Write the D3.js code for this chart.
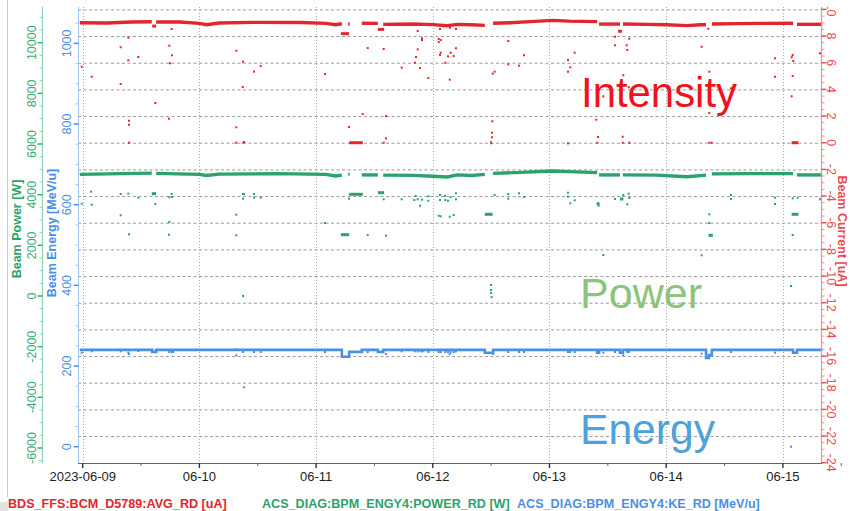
<!DOCTYPE html>
<html><head><meta charset="utf-8">
<script src="https://cdn.jsdelivr.net/npm/d3@7/dist/d3.min.js"></script>
<style>
body{margin:0;background:#fff;}
svg{display:block;font-family:"Liberation Sans",Arial,Helvetica,sans-serif;}
</style>
</head><body>
<svg id="c" width="850" height="511"></svg>
<script>
// ---------- DATA (hours since 2023-06-09 00:00 UTC, value) ----------
const dayLabels = ["2023-06-09","06-10","06-11","06-12","06-13","06-14","06-15"];
const currentTicks = [-24,-22,-20,-18,-16,-14,-12,-10,-8,-6,-4,-2,0,2,4,6,8,10];
const powerTicks = [-6000,-4000,-2000,0,2000,4000,6000,8000,10000];
const energyTicks = [0,200,400,600,800,1000];

// main dense traces (segments separated by gaps)
const intensityTrace = [
 [[-0.6,9.00],[5,8.98],[10,9.05],[14.2,9.07]],
 [[15.1,9.05],[20,9.05],[24,8.95],[25.5,8.85],[28,8.98],[35,9.03],[45,9.02],[50,8.95],[52,8.85],[53.3,8.92]],
 [[54.6,8.90],[54.9,8.90]],
 [[57.4,8.96],[60.7,8.95]],
 [[61.8,8.88],[68,8.90],[72,8.86],[75,8.78],[77,8.88],[80,8.85],[82.7,8.80]],
 [[84.4,8.96],[88,9.00],[92,9.08],[96.7,9.18],[100,9.12],[103,9.10],[105.8,9.08]],
 [[106.2,8.90],[110.5,8.90]],
 [[111.1,8.90],[116,8.88],[120,8.85],[124.3,8.78],[127,8.85],[128.2,8.85]],
 [[129.4,8.90],[135,8.93],[140,8.95],[146.1,8.96]],
 [[146.9,8.88],[152.1,8.88]]
];
const powerTrace = [
 [[-0.6,4800],[8,4830],[14.2,4850]],
 [[15.1,4840],[24,4800],[25.5,4760],[28,4810],[40,4830],[50,4800],[52,4740],[53.3,4770]],
 [[54.6,4810],[54.9,4810]],
 [[57.4,4780],[60.7,4780]],
 [[61.8,4770],[68,4760],[72,4730],[75,4700],[77,4780],[80,4760],[82.7,4800]],
 [[84.4,4840],[90,4880],[96.7,4935],[100,4910],[105.8,4870]],
 [[106.2,4780],[110.5,4780]],
 [[111.1,4780],[118,4770],[124.3,4710],[128.2,4770]],
 [[129.4,4820],[137,4830],[146.1,4830]],
 [[146.9,4780],[152.1,4780]]
];
const energyTrace = [[-0.6,240],[14.3,235],[15.1,240],[53.3,223],[54.8,235],[57.4,240],[60.7,235],[61.8,240],
 [82.7,233],[84.4,240],[105.8,233],[106.2,240],[110.5,233],[111.1,240],[128.2,220],[128.8,227],[129.4,240],
 [146.1,233],[146.9,240],[152.1,240]];

// short dense runs [startHour, endHour, value]
const intensityRuns = [[14.3,15.1,8.75],[53.1,54.8,8.18],[54.8,57.6,0],[60.7,62.0,8.5],[83.8,84.2,0],[110.1,110.9,8.36],[145.8,147.2,0]];
const powerRuns = [[14.2,15.1,4039],[53.1,54.8,2420],[54.8,57.6,4015],[60.7,62.0,4078],[82.7,84.3,3225],[105.7,106.3,3644],[110.5,111.2,3829],[128.7,129.6,2396],[145.8,147.2,3225]];

// scattered readings
const intensityPoints = [
[-0.21,5.70],[1.85,4.95],[7.81,7.16],[7.81,4.40],[9.38,7.88],[9.38,6.18],[9.52,1.65],[9.52,1.35],[9.52,0],[11.43,6.43],[14.93,2.98],[17.81,7.28],[17.95,5.96],[17.75,1.80],[18.30,8.53],[18.37,6.56],
[31.59,6.90],[31.59,1.16],[31.59,0],[32.97,6.08],[32.91,4.18],[33.03,0],[33.2,0.05],[35.23,5.33],[36.61,5.75],[49.83,5.15],
[54.77,1.18],[57.58,2.15],[58.61,7.10],[61.9,7.03],[62.38,2.0],[62.38,0.33],[61.9,0],[65.6,5.63],[68.34,6.0],[68.55,6.43],[68.9,8.38],[68.9,7.0],[69.37,5.60],[69.78,7.83],[69.78,7.70],[71.08,4.85],[73.22,7.78],[73.22,7.55],[73.48,8.53],[73.63,7.70],[73.48,6.58],[73.63,6.75],[74.57,6.0],[75.13,6.48],[75.48,4.73],[75.68,6.75],[75.54,8.63],[76.3,6.5],[76.77,8.53],[76.77,7.08],
[84.32,5.18],[84.73,5.33],[84.24,1.61],[84.18,0.75],[84.18,0.41],[87.53,7.63],[87.53,5.88],[89.73,5.78],[90.76,6.56],[99.81,6.2],[99.81,5.33],[100.28,5.66],[101.18,6.75],[99.81,-0.05],[105.63,1.73],[105.98,0.43],[105.83,0],[107.07,3.48],[109.47,7.95],[109.47,7.31],[111.06,0.45],[111.06,0],[111.18,5.06],[111.88,7.31],[112.0,6.96],[112.41,7.80],[112.29,4.16],[112.41,0],
[127.3,7.2],[128.66,8.55],[128.87,5.33],[128.87,2.23],[128.87,0],[129.36,0],[133.33,4.08],[142.38,6.33],[142.38,4.95],[145.81,6.41],[146.02,6.58],[146.02,5.0],[145.81,3.48],[146.14,6.13],[151.64,6.71]
];
const powerPoints = [
[-0.21,3644],[1.71,4118],[1.85,3604],[7.81,4027],[7.81,3186],[9.38,4039],[9.52,2436],[11.43,3881],[14.93,3632],[17.81,3897],[18.30,4027],[18.37,3908],[17.81,2921],[17.75,2420],
[31.59,3210],[31.59,2396],[32.97,4027],[33.17,4027],[32.97,3841],[35.23,4027],[35.23,3881],[36.61,3881],[32.97,0],[49.83,2882],
[54.77,3841],[58.61,2408],[61.9,3818],[62.38,2381],[65.6,3818],[68.2,3790],[68.48,3948],[68.9,3818],[69.37,3565],[69.78,3802],[71.08,3936],[71.08,3762],[73.22,3170],[73.48,3987],[73.63,3146],[73.48,3790],[74.57,3790],[74.5,3948],[75.13,3762],[75.48,3131],[75.68,3897],[76.3,3198],[76.77,4054],[76.77,3818],
[83.97,434],[83.97,237],[84.0,118],[84.1,-40],
[84.73,3987],[87.53,4027],[87.53,3841],[89.73,4054],[90.76,3908],[99.81,4078],[99.81,3920],[100.28,3660],[101.18,3778],[106.1,3565],[107.07,1619],[109.47,3829],[111.18,3987],[112.0,3620],[112.29,4039],[112.41,3869],
[127.3,1607],[128.87,3225],[128.87,2882],[133.33,3987],[133.33,3829],[142.38,3881],[142.38,3632],[146.02,3857],[147.05,3881],[146.02,2408],[145.67,395],[151.64,3818]
];
const energyPoints = [
[-0.21,233.1],[1.85,236.5],[7.81,236.5],[9.38,233.1],[9.52,229.9],[11.43,237.3],[17.8,234.8],[18.3,234.8],[18.6,234.8],[31.59,241.5],[31.59,226.6],[32.97,234.8],[33.2,147.3],[35.23,234.8],[36.61,234.8],[49.83,234.8],[58.61,234.8],[62.38,229.9],[65.6,236.5],[68.3,236.5],[68.9,236.5],[69.5,236.5],[69.9,236.5],[71.08,234.8],[73.22,234.8],[73.63,234.8],[74.57,234.8],[75.13,234.8],[75.48,229.9],[75.68,234.8],[76.3,234.8],[76.77,236.5],
[84.4,229.9],[87.53,234.8],[89.73,234.8],[90.76,234.8],[99.81,234.8],[100.28,234.8],[101.18,234.8],[107.07,233.1],[109.47,234.8],[111.18,226.6],[112.0,234.8],[112.29,234.8],[127.3,230.7],[133.33,234.8],[142.38,233.1],[145.67,0]
];

const legendLabels = ["BDS_FFS:BCM_D5789:AVG_RD [uA]","ACS_DIAG:BPM_ENGY4:POWER_RD [W]","ACS_DIAG:BPM_ENGY4:KE_RD [MeV/u]"];
const axisTitles = ["Beam Current [uA]","Beam Power [W]","Beam Energy [MeV/u]"];
const bigLabels = ["Intensity","Power","Energy"];

// ---------- STYLE ----------
const C = {
  red:"#e3262e", green:"#2aa36c", blue:"#4a8fe5",
  redAxis:"#ec4a52", redLine:"#f19096",
  greenAxis:"#35ad78", greenLine:"#8fd3b2",
  blueAxis:"#4a8fe5", blueLine:"#a9c9f1",
  grid:"#9a9a9a"
};
const T = {top:7, bottom:463, left:78, right:822};

const t0 = Date.UTC(2023,5,9);
const toDate = h => new Date(t0 + h*3600000);

const x = d3.scaleUtc().domain([toDate(-0.97), toDate(152.05)]).range([T.left, T.right]);
const yI = d3.scaleLinear().domain([-24.02, 10.18]).range([T.bottom, T.top]);
const yP = d3.scaleLinear().domain([-6593, 11409]).range([T.bottom, T.top]);
const yE = d3.scaleLinear().domain([-40.4, 1090.2]).range([T.bottom, T.top]);

const svg = d3.select("#c");
svg.append("defs").append("clipPath").attr("id","axclip")
  .append("rect").attr("x",0).attr("y",T.top).attr("width",850).attr("height",T.bottom-T.top+20);

// left decoration
svg.append("line").attr("x1",7.5).attr("x2",7.5).attr("y1",0).attr("y2",497).attr("stroke","#b9cdea").attr("stroke-width",1);
svg.append("rect").attr("x",0).attr("y",502).attr("width",8).attr("height",9).attr("fill","#e2e2e2");

// grid
const days = dayLabels.map((d,i)=>toDate(24*i));
const grid = svg.append("g");
grid.selectAll("line.h").data(currentTicks.filter(v=>v>-24)).join("line")
  .attr("x1",T.left).attr("x2",T.right).attr("y1",d=>yI(d)+0.5).attr("y2",d=>yI(d)+0.5)
  .attr("stroke",C.grid).attr("stroke-width",1).attr("stroke-dasharray","3,2.5");
grid.selectAll("line.v").data(days).join("line")
  .attr("x1",d=>Math.round(x(d))+0.5).attr("x2",d=>Math.round(x(d))+0.5).attr("y1",T.top).attr("y2",T.bottom)
  .attr("stroke","#a8a8a8").attr("stroke-width",1).attr("stroke-dasharray","1,2");

// ---------- MARKS ----------
function drawSeries(trace, runs, points, yS, color, w){
  const g = svg.append("g");
  const line = d3.line().x(d=>x(toDate(d[0]))).y(d=>yS(d[1]));
  g.selectAll("path").data(trace).join("path").attr("d",line)
    .attr("fill","none").attr("stroke",color).attr("stroke-width",w).attr("stroke-linecap","butt");
  g.selectAll("line.run").data(runs).join("line")
    .attr("x1",d=>x(toDate(d[0]))).attr("x2",d=>x(toDate(d[1])))
    .attr("y1",d=>yS(d[2])).attr("y2",d=>yS(d[2]))
    .attr("stroke",color).attr("stroke-width",3);
  g.selectAll("rect").data(points).join("rect")
    .attr("x",d=>x(toDate(d[0]))-1).attr("y",d=>yS(d[1])-1).attr("width",2).attr("height",2)
    .attr("fill",color);
}
drawSeries(intensityTrace, intensityRuns, intensityPoints, yI, C.red, 3.4);
drawSeries(powerTrace, powerRuns, powerPoints, yP, C.green, 3.4);
// energy: step trace
{
  const g = svg.append("g");
  const line = d3.line().x(d=>x(toDate(d[0]))).y(d=>yE(d[1])).curve(d3.curveStepAfter);
  g.append("path").datum(energyTrace).attr("d",line).attr("fill","none")
    .attr("stroke",C.blue).attr("stroke-width",2.6);
  g.selectAll("rect").data(energyPoints).join("rect")
    .attr("x",d=>x(toDate(d[0]))-1).attr("y",d=>yE(d[1])-1).attr("width",2).attr("height",2)
    .attr("fill",C.blue);
}

// ---------- AXES ----------
function vAxis(scale, xLine, majors, minorStep, dir, lineColor, labelColor, labelX, rot, fs){
  const g = svg.append("g");
  const [d0,d1] = scale.domain();
  const minors = d3.range(Math.ceil(d0/minorStep)*minorStep, d1, minorStep);
  g.append("line").attr("x1",xLine).attr("x2",xLine).attr("y1",T.top).attr("y2",T.bottom)
    .attr("stroke",lineColor).attr("stroke-width",1.2);
  g.selectAll("line.mn").data(minors).join("line")
    .attr("x1",xLine).attr("x2",xLine+dir*3).attr("y1",d=>scale(d)).attr("y2",d=>scale(d))
    .attr("stroke",lineColor).attr("stroke-width",1);
  g.selectAll("line.mj").data(majors).join("line")
    .attr("x1",xLine).attr("x2",xLine+dir*5).attr("y1",d=>scale(d)).attr("y2",d=>scale(d))
    .attr("stroke",labelColor).attr("stroke-width",1.4);
  g.append("g").attr("clip-path","url(#axclip)").selectAll("text").data(majors).join("text")
    .attr("x",labelX).attr("y",d=>scale(d)).attr("dy","0.35em")
    .attr("transform",d=>`rotate(${rot},${labelX},${scale(d)})`)
    .attr("text-anchor","middle").attr("font-size",fs).attr("fill",labelColor)
    .text(d=>d);
}
vAxis(yP, 42.5, powerTicks, 500, -1, C.greenLine, C.greenAxis, 32, -90, 12.5);
vAxis(yE, 78.5, energyTicks, 50, -1, C.blueLine, C.blueAxis, 67, -90, 12.5);
vAxis(yI, 821.5, currentTicks, 0.5, 1, C.redLine, C.redAxis, 831, 90, 12.5);

// axis titles
function title(txt, tx, ty, rot, color){
  svg.append("text").attr("x",tx).attr("y",ty).attr("dy","0.35em")
    .attr("transform",`rotate(${rot},${tx},${ty})`).attr("text-anchor","middle")
    .attr("font-size",12.5).attr("font-weight","bold").attr("fill",color).text(txt);
}
title(axisTitles[0], 842.5, 231, 90, C.redAxis);
title(axisTitles[1], 16.5, 229, -90, C.green);
title(axisTitles[2], 52, 233, -90, C.blue);

// x axis
{
  const g = svg.append("g");
  g.append("line").attr("x1",T.left).attr("x2",T.right).attr("y1",T.bottom+0.5).attr("y2",T.bottom+0.5)
    .attr("stroke","#666").attr("stroke-width",1);
  const noons = dayLabels.map((d,i)=>toDate(24*i+12));
  g.selectAll("line.mn").data(noons).join("line")
    .attr("x1",d=>x(d)).attr("x2",d=>x(d)).attr("y1",T.bottom).attr("y2",T.bottom+3)
    .attr("stroke","#666");
  g.selectAll("line.mj").data(days).join("line")
    .attr("x1",d=>x(d)).attr("x2",d=>x(d)).attr("y1",T.bottom).attr("y2",T.bottom+5)
    .attr("stroke","#333").attr("stroke-width",1.4);
  g.selectAll("text").data(days).join("text")
    .attr("x",d=>x(d)).attr("y",481).attr("text-anchor","middle")
    .attr("font-size",13).attr("fill","#222").text((d,i)=>dayLabels[i]);
}

// big labels
svg.append("text").attr("x",581).attr("y",107).attr("font-size",43).attr("fill","#f0121c")
  .attr("textLength",156).attr("lengthAdjust","spacingAndGlyphs").text(bigLabels[0]);
svg.append("text").attr("x",580).attr("y",308).attr("font-size",43).attr("fill","#8cc47d")
  .attr("textLength",122).attr("lengthAdjust","spacingAndGlyphs").text(bigLabels[1]);
svg.append("text").attr("x",580).attr("y",444).attr("font-size",43).attr("fill","#4ea2db")
  .attr("textLength",135).attr("lengthAdjust","spacingAndGlyphs").text(bigLabels[2]);

// legend
const legX = [8, 262, 517];
const legC = [C.red, C.green, C.blue];
svg.selectAll("text.leg").data(legendLabels).join("text").attr("class","leg")
  .attr("x",(d,i)=>legX[i]).attr("y",507.5).attr("font-size",12.6).attr("font-weight","bold")
  .attr("fill",(d,i)=>legC[i]).text(d=>d);
</script>
</body></html>
